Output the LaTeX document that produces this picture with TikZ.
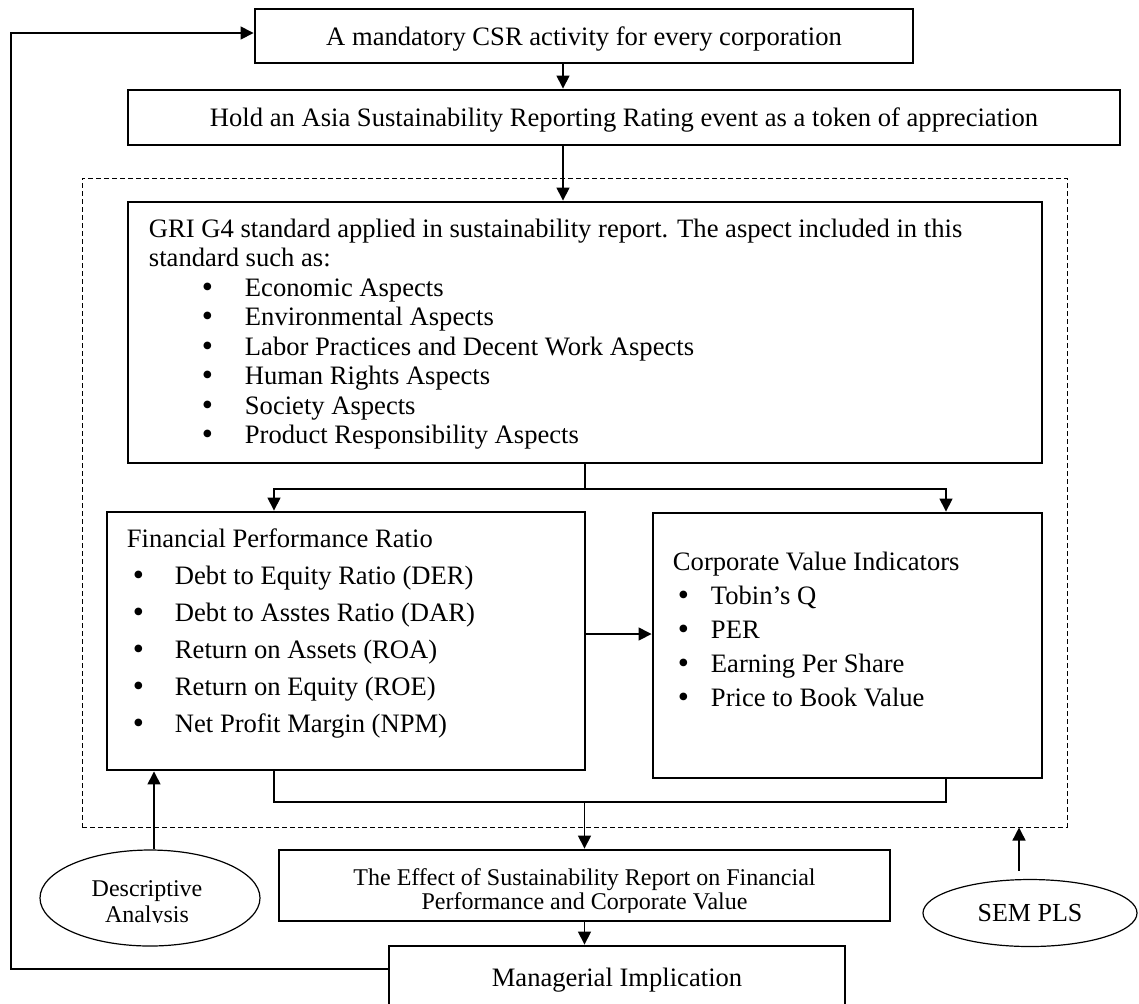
\documentclass[tikz,border=0pt]{standalone}
\usepackage{fontspec}
\setmainfont{Liberation Serif}
\usetikzlibrary{arrows.meta,shapes.geometric}

\newcommand{\itembul}[2]{\hspace*{#1}\makebox[#2][l]{\raisebox{-0.04em}{\scalebox{1.2}{\textbullet}}}}

\begin{document}
\begin{tikzpicture}[x=0.5pt,y=-0.5pt,
  box/.style={draw,line width=1.45pt,inner sep=0pt,text depth=0pt,
    font=\fontsize{13.3}{15}\selectfont},
  oval/.style={draw,ellipse,line width=0.6pt,inner sep=0pt,text depth=0pt,
    font=\fontsize{13}{15}\selectfont},
  txt/.style={inner sep=0pt,align=left,font=\fontsize{13.3}{#1}\selectfont},
  conn/.style={line width=0.75pt},
  arr/.style={line width=0.75pt,-{Triangle[length=6.5pt,width=6.5pt]}}] % 1139x1003 px
  \useasboundingbox (0,0) rectangle (1139,1003);
  \node[draw,dash pattern=on 2.5pt off 1.5pt,line width=0.5pt,inner sep=0pt,
    minimum width=492.5pt,minimum height=324.5pt] (area) at (574.5,502.5) {};

  \node[box,minimum width=329pt,minimum height=27pt] (csr) at (584,36)
    {A mandatory CSR activity for every corporation};
  \node[box,minimum width=496pt,minimum height=27.5pt] (asia) at (624,117.5)
    {Hold an Asia Sustainability Reporting Rating event as a token of appreciation};
  \node[box,minimum width=457pt,minimum height=130.5pt] (gri) at (585,332.5) {};
  \node[box,minimum width=239pt,minimum height=129pt] (fpr) at (346,641) {};
  \node[box,minimum width=194.5pt,minimum height=132.5pt] (cvi) at (847.5,645.5) {};
  \node[box,minimum width=305.5pt,minimum height=35.5pt] (eff) at (584.5,885.5) {};
  \node[box,minimum width=228pt,minimum height=31pt] (mgr) at (617,977)
    {Managerial Implication};
  \node[oval,minimum width=110pt,minimum height=48pt] (desc) at (150,898) {};
  \node[oval,minimum width=107pt,minimum height=33.5pt] (sem) at (1030,913) {SEM PLS};

  % box texts
  \node[txt=14.75pt,anchor=north west] (gritxt) at ([shift={(11pt,-8.8pt)}]gri.north west)
    {GRI G4 standard applied in sustainability report. The aspect included in this\\
     standard such as:\\
     \itembul{26.5pt}{21.5pt}Economic Aspects\\
     \itembul{26.5pt}{21.5pt}Environmental Aspects\\
     \itembul{26.5pt}{21.5pt}Labor Practices and Decent Work Aspects\\
     \itembul{26.5pt}{21.5pt}Human Rights Aspects\\
     \itembul{26.5pt}{21.5pt}Society Aspects\\
     \itembul{26.5pt}{21.5pt}Product Responsibility Aspects};
  \node[txt=18.5pt,anchor=north west] (fprtxt) at ([shift={(10.5pt,-8.8pt)}]fpr.north west)
    {Financial Performance Ratio\\
     \itembul{3pt}{21pt}Debt to Equity Ratio (DER)\\
     \itembul{3pt}{21pt}Debt to Asstes Ratio (DAR)\\
     \itembul{3pt}{21pt}Return on Assets (ROA)\\
     \itembul{3pt}{21pt}Return on Equity (ROE)\\
     \itembul{3pt}{21pt}Net Profit Margin (NPM)};
  \node[txt=17.1pt,anchor=north west] (cvitxt) at ([shift={(10.5pt,-19.8pt)}]cvi.north west)
    {Corporate Value Indicators\\
     \itembul{2.5pt}{16.5pt}Tobin’s Q\\
     \itembul{2.5pt}{16.5pt}PER\\
     \itembul{2.5pt}{16.5pt}Earning Per Share\\
     \itembul{2.5pt}{16.5pt}Price to Book Value};

  \coordinate (cut1) at (0,912);
  \coordinate (cut2) at (0,922);
  \begin{scope}
    \clip (eff.north west) rectangle (eff.east |- cut1);
    \node[anchor=north,align=center,inner sep=0pt,font=\fontsize{12}{12}\selectfont]
      (efftxt) at ([yshift=-9.8pt]eff.north)
      {The Effect of Sustainability Report on Financial\\Performance and Corporate Value};
  \end{scope}
  \begin{scope}
    \clip (desc.west |- desc.north) rectangle (desc.east |- cut2);
    \node[anchor=north,align=center,inner sep=0pt,font=\fontsize{12}{13}\selectfont]
      (desctxt) at ([shift={(-1.5pt,-15.3pt)}]desc.north) {Descriptive\\Analysis};
  \end{scope}

  % connectors
  \coordinate (xmain) at (563,0);
  \coordinate (xfpr) at (274,0);
  \coordinate (xcvi) at (946,0);
  \coordinate (ysplit) at (0,489);
  \coordinate (yside) at (0,634);
  \coordinate (ymerge) at (0,802);
  \coordinate (fbtop) at (11,33);
  \coordinate (fbbot) at (11,969);
  \draw[arr] (csr.south -| xmain) -- (asia.north -| xmain);
  \draw[arr] (asia.south -| xmain) -- (gri.north -| xmain);
  \draw[conn] (gri.south) -- (gri.south |- ysplit);
  \draw[arr] (gri.south |- ysplit) -| (fpr.north -| xfpr);
  \draw[arr] (gri.south |- ysplit) -| (cvi.north -| xcvi);
  \draw[arr] (fpr.east |- yside) -- (cvi.west |- yside);
  \draw[conn] (fpr.south -| xfpr) |- (xcvi |- ymerge) -- (cvi.south -| xcvi);
  \draw[arr] (eff.north |- ymerge) -- (eff.north);
  \draw[arr] (eff.south) -- (eff.south |- mgr.north);
  \draw[arr] (mgr.west |- fbbot) -- (fbbot) -- (fbtop) -- (csr.west |- fbtop);
  \draw[arr] ([xshift=2pt]desc.north) -- ([xshift=2pt]desc.north |- fpr.south);
  \draw[arr] ([xshift=-5.5pt,yshift=4pt]sem.north) -- ([xshift=-5.5pt]sem.north |- area.south);
\end{tikzpicture}
\end{document}
